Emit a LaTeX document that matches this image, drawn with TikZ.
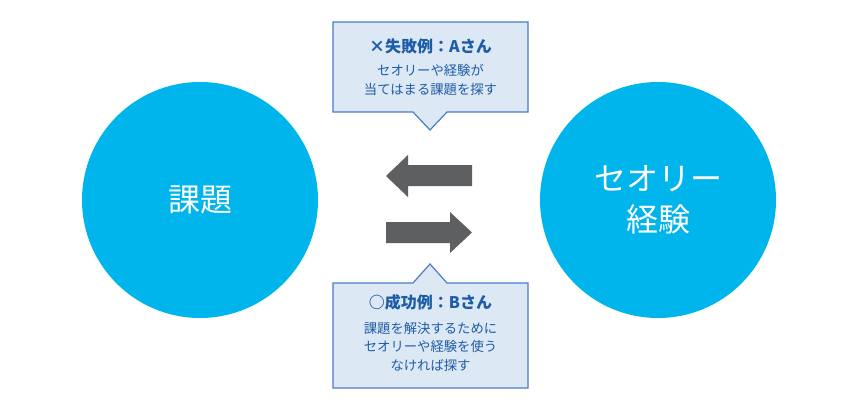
\documentclass[tikz,border=0pt]{standalone}
\usepackage{fontspec}
\setmainfont{Noto Sans CJK JP}
\usetikzlibrary{positioning}
\definecolor{circblue}{HTML}{00B4EC}
\definecolor{boxfill}{HTML}{DDE8F5}
\definecolor{boxline}{HTML}{4C7CC2}
\definecolor{textblue}{HTML}{1D5CA6}
\definecolor{arrowgray}{HTML}{5E5F61}

\begin{document}
\begin{tikzpicture}[
    x=0.75pt, y=-0.75pt,
    circlestyle/.style={circle, fill=circblue, text=white, minimum size=177pt, align=center, font=\fontsize{24}{31}\selectfont},
    calloutstyle/.style={draw=boxline, fill=boxfill, line width=0.9pt},
    titlestyle/.style={text=textblue, font=\fontsize{12}{14}\selectfont\bfseries},
    bodystyle/.style={text=textblue, align=center, font=\fontsize{10}{14}\selectfont},
    arrowfill/.style={fill=arrowgray}
]
\useasboundingbox (0,0) rectangle (860,411);

% Circles
\node[circlestyle] (issue) at (200,200) {課題};
\node[circlestyle] (theory) at (658,200) {セオリー\\経験};

% Arrows between circles
\fill[arrowfill] (472,165) -- (408,165) -- (408,155) -- (386,176) -- (408,197) -- (408,186) -- (472,186) -- cycle;
\fill[arrowfill] (386,222) -- (450,222) -- (450,212) -- (472,232.5) -- (450,253) -- (450,243) -- (386,243) -- cycle;

% Top callout
\draw[calloutstyle] (333,22) -- (528,22) -- (528,112) -- (447,112) -- (430,130) -- (413,112) -- (333,112) -- cycle;
\node[titlestyle] (failtitle) at (430.5,46) {×失敗例：Aさん};
\node[bodystyle, below=1pt of failtitle] (failtext) {セオリーや経験が\\当てはまる課題を探す};

% Bottom callout
\draw[calloutstyle] (333,283) -- (413,283) -- (430,264) -- (447,283) -- (528,283) -- (528,388) -- (333,388) -- cycle;
\node[titlestyle] (oktitle) at (430.5,302) {○成功例：Bさん};
\node[bodystyle, below=2pt of oktitle] (oktext) {課題を解決するために\\セオリーや経験を使う\\なければ探す};

\end{tikzpicture}
\end{document}
